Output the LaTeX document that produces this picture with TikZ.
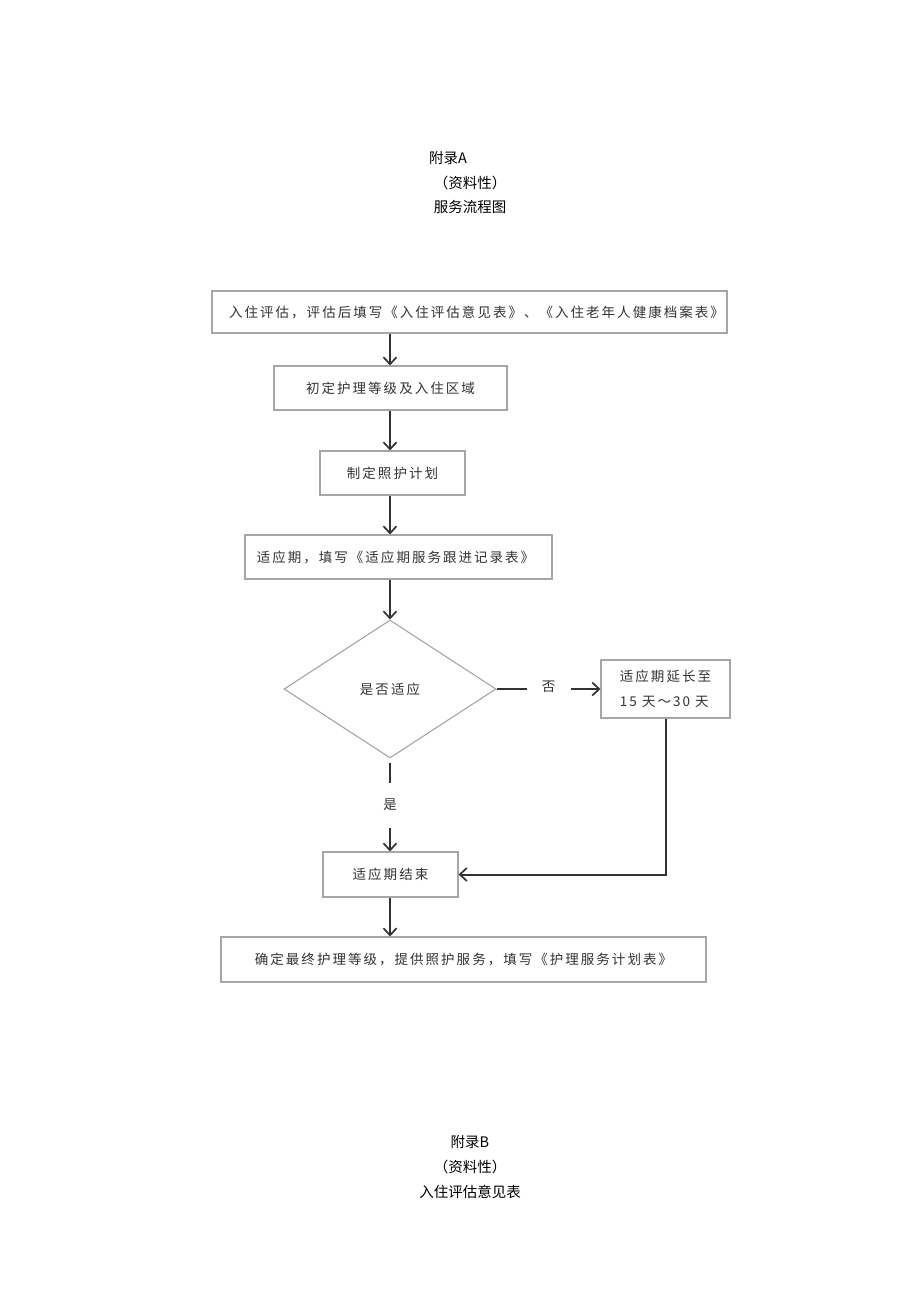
\documentclass[tikz,border=0pt]{standalone}
\usepackage{fontspec}
\newfontfamily\cjk{Noto Sans CJK SC}
\newfontfamily\cjkbox[LetterSpace=15]{Noto Sans CJK SC}
\usetikzlibrary{arrows.meta,shapes.geometric}
\begin{document}
\begin{tikzpicture}[x=1pt,y=-1pt,
  stepbox/.style={draw=black!35,line width=1.1pt,rectangle,inner sep=0pt,
    text=black!80,font=\cjkbox\fontsize{13.5}{25}\selectfont},
  title/.style={font=\cjk\fontsize{14.5}{17}\selectfont,text=black,inner sep=0pt},
  conn/.style={draw=black!80,line width=2pt,-{Straight Barb[length=7pt,width=13pt,line width=1.7pt]}},
  lab/.style={fill=white,inner sep=0pt,text=black!80,font=\cjkbox\fontsize{13.5}{16}\selectfont}]
\useasboundingbox (0,0) rectangle (920,1301);
\fill[white] (0,0) rectangle (920,1301);
% headers
\node[title] (hA1) at (448,158) {附录A};
\node[title] (hA2) at (470,183) {（资料性）};
\node[title] (hA3) at (470,207) {服务流程图};
\node[title] (hB1) at (470,1142) {附录B};
\node[title] (hB2) at (470,1167) {（资料性）};
\node[title] (hB3) at (470,1192) {入住评估意见表};
% main axis
\coordinate (ax) at (390,0);
% boxes
\node[stepbox,minimum width=515pt,minimum height=42pt] (b1) at (469.5,312) {\hspace*{14pt}入住评估，评估后填写《入住评估意见表》、《入住老年人健康档案表》};
\node[stepbox,minimum width=233pt,minimum height=44pt] (b2) at (390.5,388) {初定护理等级及入住区域};
\node[stepbox,minimum width=145pt,minimum height=44pt] (b3) at (392.5,473) {制定照护计划};
\node[stepbox,minimum width=307pt,minimum height=44pt] (b4) at (398.5,557) {适应期，填写《适应期服务跟进记录表》\hspace*{6pt}};
\node[stepbox,diamond,minimum width=212pt,minimum height=138pt] (d) at (390,689) {是否适应};
\node[stepbox,minimum width=129pt,minimum height=58pt,align=left] (b5) at (665.5,689) {适应期延长至\\15 天～30 天};
\node[stepbox,minimum width=135pt,minimum height=45pt] (b6) at (390.5,874.5) {适应期结束};
\node[stepbox,minimum width=485pt,minimum height=45pt] (b7) at (463.5,959.5) {确定最终护理等级，提供照护服务，填写《护理服务计划表》};
% connectors
\draw[conn] (b1.south -| ax) -- (b2.north -| ax);
\draw[conn] (b2.south -| ax) -- (b3.north -| ax);
\draw[conn] (b3.south -| ax) -- (b4.north -| ax);
\draw[conn] (b4.south -| ax) -- (d.north);
\draw[conn] (d.east) -- node[lab,minimum width=44pt,minimum height=16pt,yshift=2pt] (no) {否} (b5.west);
\draw[conn,shorten <=4pt] (d.south) -- node[lab,minimum width=16pt,minimum height=45pt] (yes) {是} (b6.north -| ax);
\draw[conn] (b5.south) |- (b6.east);
\draw[conn] (b6.south -| ax) -- (b7.north -| ax);
\end{tikzpicture}
\end{document}
